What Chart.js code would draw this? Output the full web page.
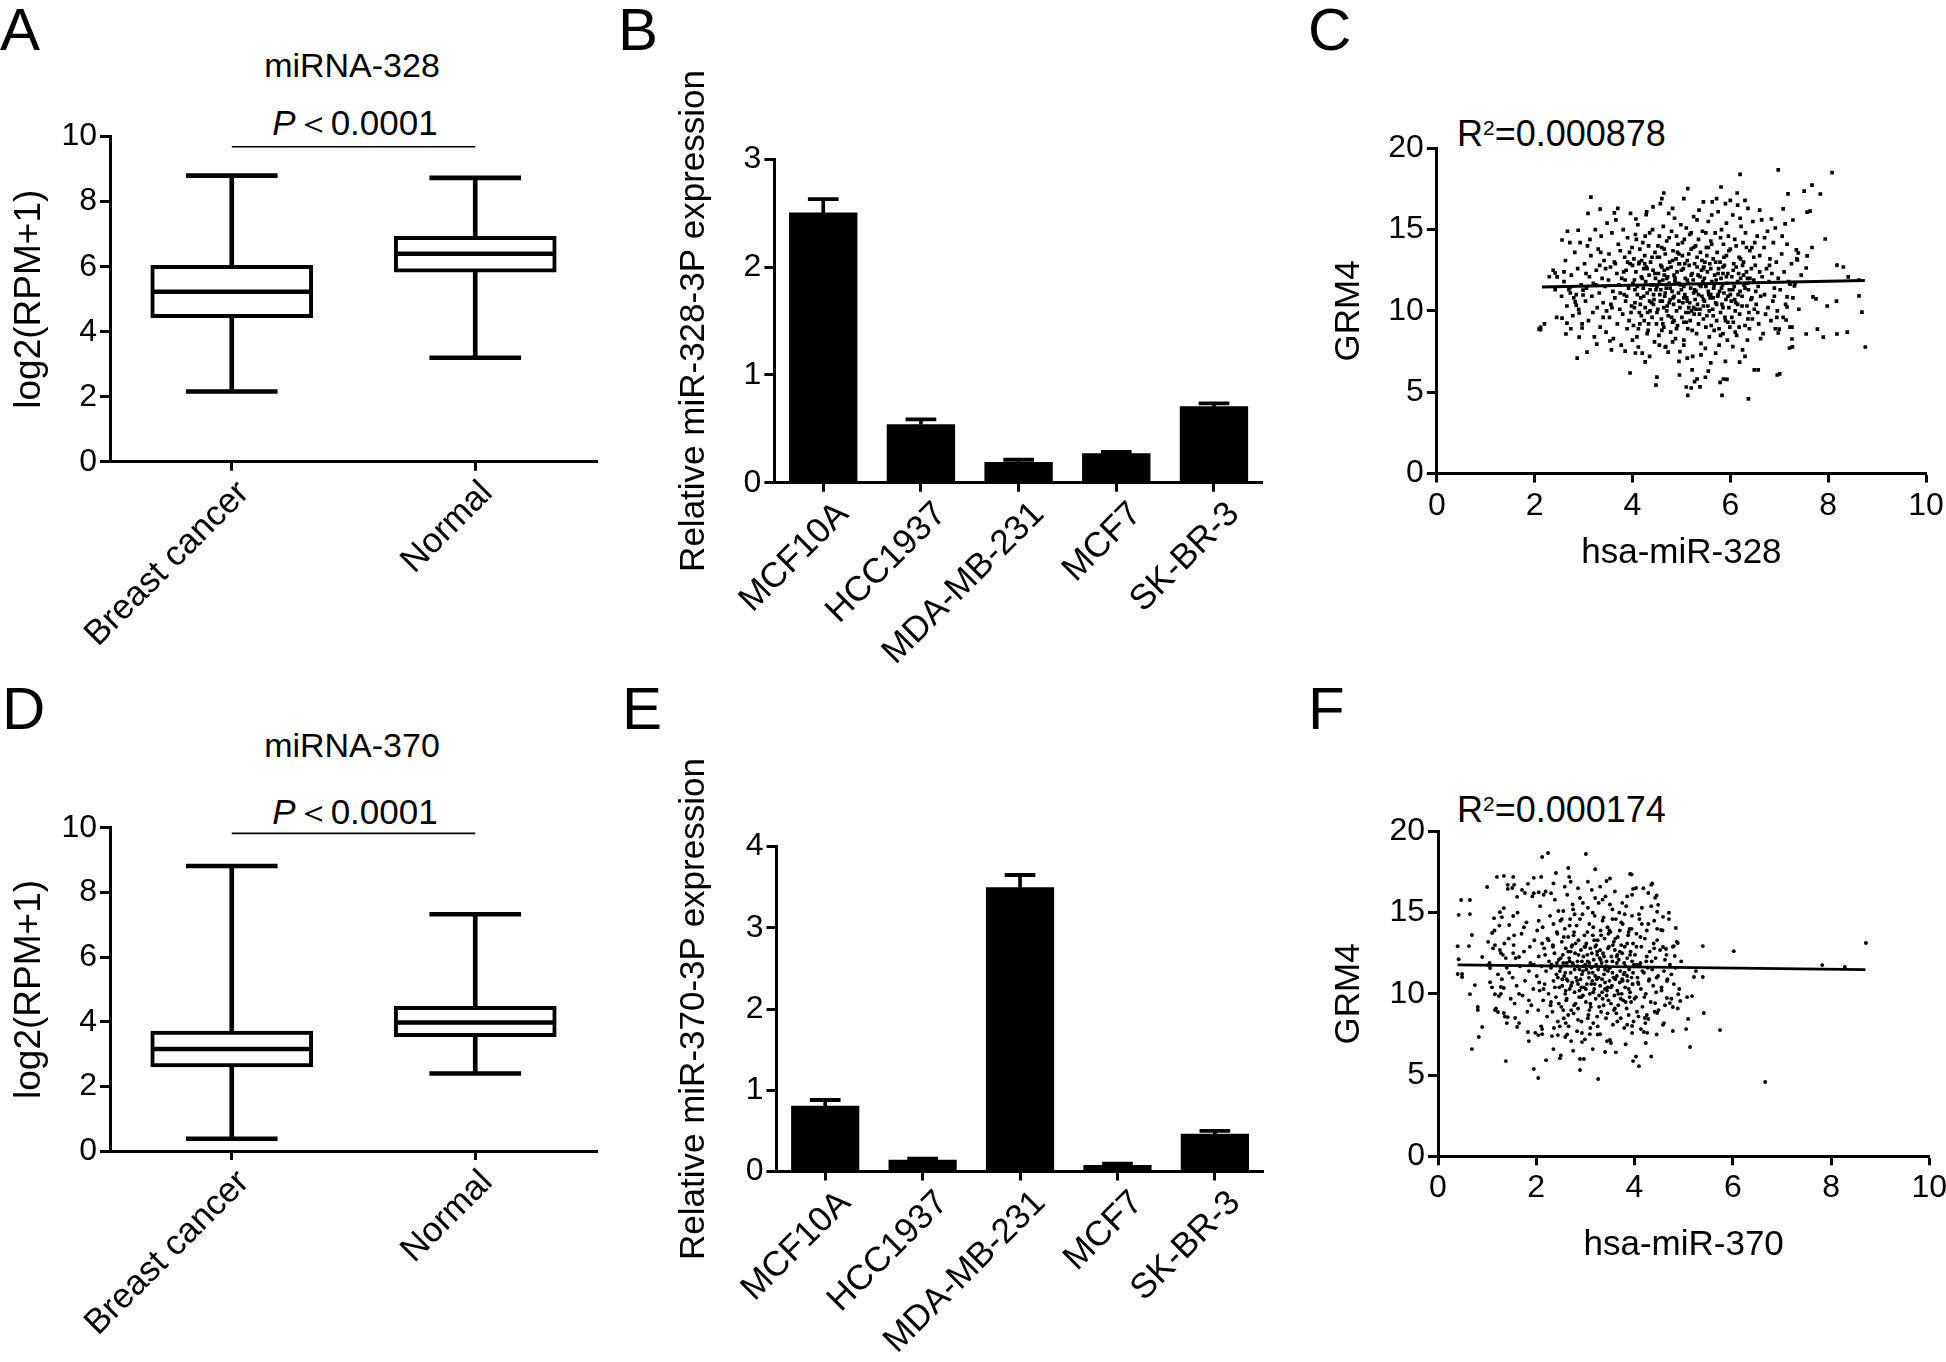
<!DOCTYPE html>
<html>
<head>
<meta charset="utf-8">
<script src="https://cdn.jsdelivr.net/npm/chart.js@4.4.1/dist/chart.umd.min.js"></script>
<style>
html,body{margin:0;padding:0;background:#fff;}
body{width:1946px;height:1362px;position:relative;overflow:hidden;font-family:"Liberation Sans",Arial,Helvetica,sans-serif;color:#000;}
canvas{position:absolute;}
.t{position:absolute;white-space:nowrap;line-height:1;}
.c{transform:translate(-50%,-50%);}
.l{transform:translate(0,-50%);}
.letter{font-size:60px;}
sup{font-size:58%;vertical-align:0.55em;line-height:0;}
</style>
</head>
<body>
<div class="t letter" style="left:0px;top:0px;">A</div>
<div class="t letter" style="left:618px;top:0px;">B</div>
<div class="t letter" style="left:1308px;top:0px;">C</div>
<div class="t letter" style="left:2px;top:679px;">D</div>
<div class="t letter" style="left:622px;top:679px;">E</div>
<div class="t letter" style="left:1308px;top:679px;">F</div>

<div class="t c" style="left:352px;top:65px;font-size:34px;">miRNA-328</div>
<div class="t c" style="left:355px;top:122px;font-size:35px;"><i>P</i>＜0.0001</div>
<div class="t c" style="left:352px;top:745px;font-size:34px;">miRNA-370</div>
<div class="t c" style="left:355px;top:811px;font-size:35px;"><i>P</i>＜0.0001</div>
<div class="t l" style="left:1457px;top:134px;font-size:36px;">R<sup>2</sup>=0.000878</div>
<div class="t l" style="left:1457px;top:810px;font-size:36px;">R<sup>2</sup>=0.000174</div>

<script>
// ---------------- data ----------------
const boxCategories = ['Breast cancer', 'Normal'];
const boxYTicks = [0, 2, 4, 6, 8, 10];

const box328Min = [2.16, 3.20];
const box328Q1 = [4.43, 5.83];
const box328Median = [5.23, 6.40];
const box328Q3 = [6.04, 6.93];
const box328Max = [8.80, 8.73];
const pBar328 = [9.69, 9.69];

const box370Min = [0.38, 2.40];
const box370Q1 = [2.60, 3.54];
const box370Median = [3.16, 3.98];
const box370Q3 = [3.71, 4.48];
const box370Max = [8.82, 7.33];
const pBar370 = [9.83, 9.83];

const cellLines = ['MCF10A', 'HCC1937', 'MDA-MB-231', 'MCF7', 'SK-BR-3'];
const miR328Expr = [2.505, 0.543, 0.193, 0.273, 0.708];
const miR328Err = [0.125, 0.044, 0.020, 0.012, 0.028];
const miR328Ticks = [0, 1, 2, 3];
const miR370Expr = [0.81, 0.145, 3.50, 0.08, 0.466];
const miR370Err = [0.07, 0.012, 0.15, 0.016, 0.034];
const miR370Ticks = [0, 1, 2, 3, 4];

const scatterXTicks = [0, 2, 4, 6, 8, 10];
const scatterYTicks = [0, 5, 10, 15, 20];
const fit328X = [2.15, 8.75];
const fit328Y = [11.47, 11.87];
const fit370X = [0.40, 8.70];
const fit370Y = [11.78, 11.49];

// hsa-miR-328 (x) vs GRM4 (y)
const points328 = [
[2.12,8.99],[2.2,9.2],[2.12,8.85],[2.09,8.88],[2.42,12.33],[2.46,12.09],[2.56,14.36],[2.67,14.9],[2.89,14.96],[2.56,9.56],
[2.64,8.58],[2.66,9.25],[2.87,7.1],[3.07,7.47],[3.27,7.96],[3.54,8.15],[3.15,17.0],[3.34,16.26],[3.09,16.0],[2.73,11.47],
[2.73,11.1],[2.83,10.55],[2.85,10.36],[2.99,11.28],[2.99,10.98],[2.91,9.87],[2.97,8.95],[2.91,8.39],[3.95,6.18],[4.5,5.93],
[4.48,5.44],[4.26,6.86],[4.06,7.41],[4.12,7.78],[3.85,7.53],[4.67,7.78],[4.73,7.47],[5.12,7.1],[5.1,5.32],[5.2,5.26],
[4.96,6.06],[5.32,5.81],[5.13,4.8],[5.27,5.65],[5.38,5.33],[5.49,5.92],[5.22,6.37],[5.79,5.6],[5.83,4.8],[6.37,4.59],
[5.93,5.79],[5.86,5.81],[6.19,6.85],[6.57,6.37],[6.49,6.37],[6.96,6.06],[7.01,6.13],[7.27,7.79],[7.21,7.72],[7.26,8.27],
[7.26,9.0],[6.98,8.64],[7.0,8.88],[7.14,9.44],[7.16,10.24],[7.55,8.58],[7.78,8.88],[7.9,8.39],[8.18,8.58],[8.39,8.7],
[8.76,7.78],[8.69,9.93],[8.63,10.92],[8.17,10.6],[7.98,10.3],[7.69,10.86],[7.75,10.74],[7.16,10.86],[7.22,11.65],[7.31,11.53],
[8.63,11.9],[8.41,12.09],[8.18,12.82],[8.31,12.7],[7.55,12.64],[7.37,13.13],[7.35,13.75],[7.39,13.56],[7.57,13.38],[7.67,13.9],
[7.94,14.42],[7.06,14.6],[6.92,15.1],[6.84,15.65],[7.12,15.35],[7.28,15.59],[7.08,16.27],[7.57,16.08],[7.63,16.14],[7.18,17.2],
[7.51,17.37],[7.67,17.74],[7.84,17.19],[8.08,18.5],[6.98,18.67],[6.2,18.4],[6.14,17.25],[5.81,17.62],[5.13,17.52],[4.64,17.25],
[4.6,16.9],[4.07,15.65],[4.28,15.92],[3.63,16.03],[2.3,12.1],[2.38,12.5],[2.45,9.6],[2.42,11.3],
[2.55,10.9],[2.6,11.8],[2.63,13.1],[2.66,10.3],[2.7,11.3],[2.72,14.2],[2.75,12.2],[2.78,9.7],[2.8,10.8],[2.82,13.6],
[2.85,11.0],[2.88,12.6],[2.9,10.1],[2.93,14.2],[2.95,11.6],[2.97,9.2],[2.74,8.9],[2.6,12.4],
[3.02,12.9],[3.04,10.6],[3.06,11.4],[3.08,14.0],[3.1,9.4],[3.12,12.1],[3.15,13.4],[3.17,10.9],[3.2,11.7],[3.22,8.4],
[3.24,15.0],[3.26,12.5],[3.28,10.2],[3.3,13.8],[3.32,11.1],[3.34,9.0],[3.36,14.6],[3.38,12.0],[3.4,10.5],[3.42,13.1],
[3.44,11.5],[3.46,8.7],[3.48,15.4],[3.05,12.3],[3.19,9.9],[3.33,12.8],[3.47,10.0],[3.13,14.4],
[3.51,11.9],[3.52,13.5],[3.53,9.6],[3.55,12.7],[3.56,10.4],[3.58,14.8],[3.6,11.2],[3.61,8.3],[3.63,13.0],[3.64,10.8],
[3.66,15.6],[3.68,12.3],[3.69,9.2],[3.71,14.1],[3.72,11.6],[3.74,10.1],[3.75,13.7],[3.77,7.9],[3.78,12.0],[3.8,9.8],
[3.81,15.0],[3.83,11.0],[3.84,13.3],[3.86,10.6],[3.87,12.5],[3.89,8.9],[3.9,14.5],[3.92,11.4],[3.93,9.4],[3.95,12.9],
[3.96,16.0],[3.98,10.3],[3.99,13.9],[3.57,7.6],[3.7,16.3],[3.85,11.9],
[4.01,11.7],[4.02,9.1],[4.03,13.2],[4.05,10.5],[4.06,14.7],[4.07,12.4],[4.09,8.4],[4.1,11.0],[4.11,15.3],[4.13,12.9],
[4.14,9.9],[4.15,13.8],[4.17,10.8],[4.18,12.1],[4.2,7.4],[4.21,14.2],[4.22,11.4],[4.24,9.4],[4.25,13.4],[4.26,10.2],
[4.28,12.7],[4.29,16.1],[4.3,11.1],[4.32,8.8],[4.33,14.0],[4.34,12.2],[4.36,10.0],[4.37,13.0],[4.38,11.6],[4.4,9.6],
[4.41,15.0],[4.42,12.5],[4.44,10.7],[4.45,8.1],[4.46,13.6],[4.48,11.3],[4.49,9.2],[4.04,11.9],[4.16,10.4],[4.27,11.8],
[4.39,10.5],[4.47,12.0],[4.12,8.9],[4.35,14.8],[4.23,12.6],[4.43,11.0],[4.19,13.1],[4.31,9.9],
[4.5,11.5],[4.51,13.3],[4.52,10.1],[4.53,12.3],[4.54,8.5],[4.55,14.6],[4.56,11.0],[4.57,16.6],[4.58,12.8],[4.59,9.5],
[4.6,13.9],[4.61,10.6],[4.62,11.9],[4.63,15.2],[4.64,9.0],[4.65,12.5],[4.66,10.9],[4.67,13.5],[4.68,7.8],[4.69,11.4],
[4.7,14.3],[4.71,10.3],[4.72,12.1],[4.73,9.7],[4.74,16.0],[4.75,11.7],[4.76,13.0],[4.77,10.7],[4.78,8.7],[4.79,12.7],
[4.8,14.9],[4.81,11.2],[4.82,9.3],[4.83,13.7],[4.84,10.4],[4.85,12.2],[4.86,15.7],[4.87,11.8],[4.88,8.3],[4.89,13.2],
[4.9,10.0],[4.91,12.4],[4.92,9.1],[4.93,14.1],[4.94,11.1],[4.95,10.6],[4.96,12.9],[4.97,7.5],[4.98,11.6],[4.99,15.3],
[4.58,11.3],[4.7,12.0],[4.83,10.8],[4.95,13.5],[4.64,10.2],
[5.0,11.3],[5.01,9.6],[5.02,13.4],[5.03,10.5],[5.04,12.6],[5.05,8.2],[5.06,14.4],[5.07,11.0],[5.08,12.0],[5.09,9.9],
[5.1,15.1],[5.11,10.8],[5.12,13.1],[5.13,8.9],[5.14,11.7],[5.15,10.2],[5.16,12.8],[5.17,14.7],[5.18,9.4],[5.19,11.4],
[5.2,13.8],[5.21,10.0],[5.22,12.3],[5.23,7.2],[5.24,11.9],[5.25,15.8],[5.26,9.8],[5.27,12.9],[5.28,10.7],[5.29,14.0],
[5.3,11.2],[5.31,8.6],[5.32,13.3],[5.33,10.4],[5.34,12.2],[5.35,9.2],[5.36,16.2],[5.37,11.6],[5.38,10.1],[5.39,13.6],
[5.4,8.0],[5.41,12.5],[5.42,10.9],[5.43,14.9],[5.44,11.8],[5.45,9.5],[5.46,12.7],[5.47,10.6],[5.48,13.0],[5.49,7.7],
[5.12,10.6],[5.25,11.1],[5.38,12.1],[5.05,9.3],[5.45,10.3],
[5.5,11.5],[5.51,13.9],[5.52,9.7],[5.53,12.4],[5.54,10.3],[5.55,15.5],[5.56,11.0],[5.57,8.4],[5.58,12.9],[5.59,10.8],
[5.6,14.3],[5.61,9.1],[5.62,11.8],[5.63,16.7],[5.64,10.1],[5.65,13.2],[5.66,11.4],[5.67,8.8],[5.68,12.2],[5.69,14.8],
[5.7,10.5],[5.71,11.9],[5.72,9.4],[5.73,13.6],[5.74,10.9],[5.75,16.1],[5.76,12.6],[5.77,7.9],[5.78,11.2],[5.79,13.0],
[5.8,9.9],[5.81,12.0],[5.82,15.0],[5.83,10.4],[5.84,11.6],[5.85,8.6],[5.86,14.1],[5.87,11.1],[5.88,12.8],[5.89,9.6],
[5.9,16.6],[5.91,10.7],[5.92,13.4],[5.93,11.7],[5.94,8.2],[5.95,12.3],[5.96,14.6],[5.97,10.2],[5.98,11.3],[5.99,9.0],
[5.6,11.0],[5.85,12.3],
[6.0,13.8],[6.02,10.6],[6.03,12.1],[6.05,15.9],[6.06,9.3],[6.08,11.5],[6.09,14.4],[6.1,10.0],[6.12,12.7],[6.13,8.5],
[6.15,16.5],[6.16,11.0],[6.18,13.3],[6.19,9.8],[6.21,12.0],[6.22,15.2],[6.24,10.9],[6.25,7.6],[6.27,13.0],[6.28,11.6],
[6.3,9.1],[6.31,14.8],[6.33,12.4],[6.34,10.3],[6.36,16.3],[6.37,11.3],[6.39,8.9],[6.4,13.7],[6.42,10.7],[6.43,12.6],
[6.45,9.5],[6.46,15.5],[6.48,11.9],[6.49,10.1],[6.07,12.9],[6.2,11.2],[6.35,12.0],[6.44,13.9],[6.11,10.5],[6.26,14.2],
[6.38,9.9],[6.17,12.3],
[6.51,12.8],[6.53,10.4],[6.55,14.6],[6.57,11.5],[6.58,9.2],[6.6,13.4],[6.62,10.9],[6.64,15.6],[6.65,12.1],[6.67,8.6],
[6.69,13.9],[6.7,11.0],[6.72,9.8],[6.74,12.6],[6.76,14.9],[6.77,10.2],[6.79,11.8],[6.81,13.2],[6.83,9.4],[6.85,12.3],
[6.87,10.6],[6.88,14.2],[6.9,11.4],[6.92,8.9],[6.94,13.0],[6.96,10.0],[6.98,12.0],[6.6,16.2],
[7.02,11.3],[7.05,13.5],[7.08,9.6],[7.1,12.4],[7.13,10.4],[7.16,14.1],[7.19,11.8],[7.22,9.0],[7.25,12.9],[7.28,10.8],
[7.32,11.7],[7.36,13.2],[7.4,10.1],[7.45,12.2],
[3.82,12.4],[3.88,10.9],[3.94,13.6],[3.97,9.9],[4.0,12.8],[4.04,10.2],[4.08,14.4],[4.1,11.5],[4.14,13.0],[4.18,9.7],
[4.2,12.0],[4.23,10.9],[4.26,14.6],[4.3,12.6],[4.33,9.2],[4.36,11.3],[4.4,13.3],[4.43,10.4],[4.46,12.3],[4.5,9.9],
[4.52,14.0],[4.55,11.8],[4.57,10.6],[4.6,12.7],[4.62,9.2],[4.65,13.8],[4.67,11.1],[4.7,10.0],[4.72,12.6],[4.75,14.5],
[4.77,11.4],[4.8,9.6],[4.82,13.1],[4.85,10.9],[4.87,12.0],[4.9,8.9],[4.92,13.6],[4.95,11.7],[4.97,10.2],[5.0,12.5],
[5.02,14.2],[5.05,10.8],[5.07,12.9],[5.1,9.3],[5.12,11.9],[5.15,13.5],[5.17,10.5],[5.2,12.2],[5.22,8.8],[5.25,13.9],
[5.27,11.3],[5.3,10.1],[5.32,12.7],[5.35,14.4],[5.37,9.8],[5.4,11.5],[5.42,13.1],[5.45,10.7],[5.47,12.0],[5.5,9.0],
[5.52,13.4],[5.55,11.2],[5.57,10.0],[5.6,12.6],[5.62,14.1],[5.65,9.7],[5.67,11.6],[5.7,13.0],[5.72,10.4],[5.75,12.3],
[5.77,8.9],[5.8,14.5],[5.82,11.4],[5.85,10.2],[5.87,13.3],[5.9,9.4],[5.92,12.1],[5.95,10.9],[5.97,13.7],[6.0,11.0],
[6.03,9.6],[6.06,12.5],[6.09,10.7],[6.12,14.0],[6.15,11.8],[6.18,9.0],[6.21,13.2],[6.24,10.3],[6.27,12.2],[6.3,11.4],
[6.33,13.9],[6.36,9.5],[6.4,12.0],[6.44,10.8],[6.48,13.3],[6.52,11.2],[6.56,9.9],[6.6,12.4],
[4.05,11.3],[4.25,12.9],[4.45,11.6],[4.65,12.2],[4.85,9.4],[5.05,11.5],[5.25,10.2],[5.45,12.6],[5.65,10.8],[5.85,12.7],
[6.05,11.3],[6.25,12.8],[4.15,9.2],[4.35,10.6],[4.55,13.3],[4.75,10.5],[4.95,12.9],[5.15,9.9],[5.35,11.0],[5.55,13.9],
[5.75,11.0],[5.95,9.3],[6.15,10.4],[6.35,11.7],[4.6,8.8],[4.9,14.6],[5.2,14.8],[5.5,14.8],[5.8,8.5],[6.1,8.7],
[4.3,8.6],[4.0,8.2],[3.9,13.0],[3.75,11.1],[3.65,12.9],[3.58,10.2],[3.45,12.6],[3.4,9.6],[3.35,13.6],[3.25,11.6],
[4.42,16.4],[4.82,16.3],[5.05,16.9],[5.45,16.7],[5.72,16.9],[6.0,16.8],[6.3,16.8],[5.32,15.6],[5.62,15.9],[5.92,15.4],
[6.2,15.7],[6.5,14.2],[6.7,14.5],[6.8,12.8],[6.9,10.9],[6.95,9.6],[6.62,8.3],[6.35,8.2],[6.05,7.8],[5.7,7.4],
[5.4,7.3],[5.05,7.9],[4.82,8.1],[4.55,7.9],[4.35,7.2],[5.6,6.8],[5.9,6.9],[6.3,7.2],[4.95,6.9],[5.55,6.3]
];

// hsa-miR-370 (x) vs GRM4 (y)
const points370 = [
[0.4,12.93],[0.42,12.13],[0.4,11.22],[0.42,14.86],[0.47,15.78],[0.65,15.78],[0.65,14.91],[0.69,13.62],[0.63,12.94],[0.49,11.22],
[0.49,11.04],[0.75,10.54],[0.65,9.98],[0.81,9.19],[0.81,9.01],[0.9,7.96],[0.83,7.34],[0.69,6.6],[1.38,5.86],[1.0,16.58],
[1.2,17.2],[1.34,17.26],[1.53,17.2],[1.42,16.71],[1.55,16.71],[1.42,16.46],[1.51,16.52],[1.61,15.97],[1.71,16.4],[1.83,16.77],
[1.77,16.21],[1.95,17.14],[2.12,18.42],[2.24,18.67],[3.01,18.61],[2.4,17.44],[2.65,17.75],[2.67,17.2],[1.95,16.2],[2.05,16.25],
[2.15,16.1],[2.3,16.2],[1.34,15.28],[1.26,15.03],[1.14,14.66],[1.3,14.72],[1.53,14.79],[1.45,14.24],[1.1,13.75],[1.02,13.2],
[1.16,13.0],[1.26,12.7],[1.28,12.51],[0.9,12.27],[1.02,11.77],[1.06,11.59],[1.38,12.2],[1.53,12.51],[1.65,12.27],[1.06,10.72],
[1.28,10.42],[1.34,10.36],[1.16,9.98],[1.24,9.86],[1.16,9.01],[1.22,8.88],[1.34,8.82],[1.4,8.2],[1.42,8.57],[1.57,8.51],
[1.61,7.96],[1.83,7.65],[1.85,7.09],[2.04,7.46],[2.12,7.83],[2.12,7.52],[1.95,5.37],[2.04,4.82],[2.2,5.92],[2.5,6.21],
[2.48,6.03],[2.89,5.99],[2.97,5.99],[2.89,5.31],[3.26,4.76],[2.44,7.46],[2.59,7.34],[2.71,7.09],[2.93,7.59],[2.93,7.03],
[3.09,7.52],[3.3,7.52],[3.4,6.42],[3.5,7.16],[3.44,7.09],[3.52,6.97],[3.91,17.38],[3.97,16.46],[4.03,16.52],[4.34,16.71],
[4.28,16.21],[4.42,15.91],[4.48,15.48],[4.46,15.05],[4.58,14.74],[4.7,14.99],[4.84,14.05],[4.54,13.93],[4.88,13.13],[4.8,12.94],
[5.39,12.94],[6.02,12.63],[8.71,13.13],[4.82,12.33],[4.64,12.76],[4.58,12.88],[4.46,13.31],[7.82,11.77],[8.28,11.65],[5.25,11.4],
[5.21,11.04],[5.39,11.04],[4.66,10.79],[4.89,9.98],[5.07,9.8],[5.17,9.86],[4.93,9.56],[4.78,9.19],[4.72,9.43],[4.66,9.74],
[5.41,8.82],[5.09,8.45],[4.78,7.71],[5.05,7.83],[5.74,7.77],[5.13,6.73],[4.46,8.82],[4.42,9.43],[4.21,8.51],[4.28,8.45],
[4.13,7.83],[4.19,7.65],[4.23,6.97],[3.95,8.02],[3.95,7.59],[4.03,6.14],[3.97,5.86],[4.09,5.55],[4.34,6.14],[6.66,4.57],
[3.2,17.67],[3.43,16.95],[3.94,17.35],[4.36,16.79],[4.45,16.06],
[1.05,11.9],[1.1,10.4],[1.12,12.8],[1.18,9.1],[1.22,11.2],[1.25,14.2],[1.28,10.0],[1.32,12.4],[1.36,8.6],[1.4,11.6],
[1.44,13.4],[1.48,9.7],[1.15,13.9],[1.3,10.9],
[1.52,11.0],[1.54,13.0],[1.56,9.4],[1.58,12.2],[1.6,10.5],[1.62,15.0],[1.65,8.2],[1.67,11.7],[1.7,13.7],[1.72,9.9],
[1.75,12.6],[1.77,10.8],[1.8,14.4],[1.82,8.9],[1.85,11.4],[1.87,12.9],[1.9,9.3],[1.92,16.0],[1.94,10.3],[1.96,13.3],
[1.98,7.6],[1.88,11.9],
[2.01,11.1],[2.02,13.9],[2.04,9.0],[2.05,12.3],[2.07,10.2],[2.08,15.4],[2.1,8.0],[2.11,11.7],[2.13,14.1],[2.14,9.6],
[2.16,12.8],[2.17,10.6],[2.19,16.3],[2.2,11.4],[2.22,8.6],[2.23,13.4],[2.25,10.0],[2.26,12.0],[2.28,14.8],[2.29,9.3],
[2.31,11.8],[2.32,7.4],[2.34,13.0],[2.35,10.8],[2.37,12.5],[2.38,15.8],[2.4,9.8],[2.41,11.2],[2.43,13.7],[2.44,8.3],
[2.46,12.1],[2.47,10.4],[2.49,14.5],[2.06,10.7],[2.18,12.4],[2.3,9.5],[2.42,11.9],[2.12,13.1],[2.36,7.9],[2.48,11.4],
[2.5,11.6],[2.51,9.2],[2.52,13.2],[2.53,10.5],[2.54,12.4],[2.55,15.1],[2.56,8.5],[2.57,11.1],[2.58,14.0],[2.59,10.0],
[2.6,12.8],[2.61,9.6],[2.62,11.9],[2.63,16.1],[2.64,10.8],[2.65,13.5],[2.66,8.0],[2.67,12.2],[2.68,10.3],[2.69,14.6],
[2.7,11.3],[2.71,9.0],[2.72,12.9],[2.73,10.7],[2.74,15.5],[2.75,11.8],[2.76,8.8],[2.77,13.8],[2.78,10.1],[2.79,12.5],
[2.8,9.4],[2.81,11.0],[2.82,14.2],[2.83,7.7],[2.84,12.0],[2.85,10.6],[2.86,13.3],[2.87,9.8],[2.88,11.5],[2.89,15.9],
[2.9,10.9],[2.91,12.7],[2.92,8.3],[2.93,11.2],[2.94,14.9],[2.95,9.9],[2.96,12.3],[2.97,10.4],[2.98,13.6],[2.99,7.2],
[2.55,11.9],[2.62,10.9],[2.7,12.6],[2.78,11.5],[2.85,9.1],[2.93,12.0],[2.6,8.2],[2.73,13.0],[2.88,10.2],[2.96,11.7],
[3.0,11.8],[3.01,9.5],[3.02,13.1],[3.03,10.6],[3.04,12.4],[3.05,15.3],[3.06,8.7],[3.07,11.3],[3.08,14.3],[3.09,10.0],
[3.1,12.8],[3.11,9.2],[3.12,11.6],[3.13,16.4],[3.14,10.8],[3.15,13.6],[3.16,8.2],[3.17,12.1],[3.18,10.3],[3.19,14.8],
[3.2,11.1],[3.21,9.7],[3.22,13.0],[3.23,10.9],[3.24,12.6],[3.25,7.5],[3.26,11.5],[3.27,15.6],[3.28,9.9],[3.29,12.2],
[3.3,10.5],[3.31,13.9],[3.32,8.9],[3.33,11.9],[3.34,10.1],[3.35,14.5],[3.36,12.5],[3.37,9.3],[3.38,11.2],[3.39,13.4],
[3.4,10.7],[3.41,16.0],[3.42,8.5],[3.43,12.0],[3.44,10.2],[3.45,14.1],[3.46,11.4],[3.47,9.6],[3.48,12.9],[3.49,10.8],
[3.05,12.0],[3.12,10.6],[3.2,12.9],[3.27,11.0],[3.35,9.7],[3.42,11.7],[3.08,9.0],[3.18,13.3],[3.3,12.7],[3.45,10.4],
[3.15,11.3],[3.38,12.3],[3.24,8.6],[3.47,13.7],[3.02,11.5],
[3.5,11.6],[3.51,13.8],[3.52,9.4],[3.53,12.3],[3.54,10.5],[3.55,15.2],[3.56,8.1],[3.57,11.0],[3.58,13.2],[3.59,9.9],
[3.6,12.7],[3.61,10.9],[3.62,14.6],[3.63,8.8],[3.64,11.9],[3.65,10.2],[3.66,13.5],[3.67,9.3],[3.68,12.1],[3.69,15.0],
[3.7,10.7],[3.71,11.4],[3.72,8.5],[3.73,13.0],[3.74,10.0],[3.75,12.5],[3.76,14.3],[3.77,9.6],[3.78,11.2],[3.79,7.9],
[3.8,12.9],[3.81,10.4],[3.82,11.7],[3.83,15.4],[3.84,9.1],[3.85,12.2],[3.86,10.8],[3.87,13.6],[3.88,8.7],[3.89,11.5],
[3.9,14.0],[3.91,10.1],[3.92,12.6],[3.93,9.5],[3.94,11.0],[3.95,16.1],[3.96,10.6],[3.97,13.1],[3.98,8.3],[3.99,11.8],
[3.55,11.3],[3.65,12.4],[3.75,10.9],[3.85,11.1],[3.95,12.0],[3.6,9.1],[3.7,13.9],[3.9,9.8],
[4.01,12.4],[4.03,9.8],[4.04,13.7],[4.06,11.0],[4.08,8.6],[4.09,14.9],[4.11,11.7],[4.13,10.3],[4.14,12.9],[4.16,9.2],
[4.18,16.5],[4.19,11.3],[4.21,13.4],[4.23,10.0],[4.24,12.0],[4.26,7.6],[4.28,14.3],[4.29,10.8],[4.31,12.6],[4.33,9.5],
[4.34,15.4],[4.36,11.5],[4.38,10.5],[4.39,13.1],[4.41,8.9],[4.43,12.2],[4.44,10.1],[4.46,14.0],[4.48,11.1],[4.49,9.0],
[4.12,11.9],[4.27,11.6],[4.4,12.8],[4.07,10.7],[4.22,8.2],
[4.52,12.7],[4.55,10.2],[4.57,13.9],[4.6,11.4],[4.62,9.3],[4.65,12.4],[4.67,10.9],[4.7,14.6],[4.72,11.8],[4.75,9.7],
[4.78,12.9],[4.8,10.6],[4.83,11.6],[4.86,13.2],[4.88,9.1],[4.91,10.3],[4.95,12.0],[4.58,8.1],
[2.3,11.6],[2.34,12.9],[2.38,10.4],[2.42,13.8],[2.46,9.4],[2.5,12.2],[2.53,10.9],[2.56,13.5],[2.59,11.3],[2.62,9.7],
[2.65,12.6],[2.68,14.2],[2.71,10.5],[2.74,11.9],[2.77,9.3],[2.8,13.1],[2.83,10.8],[2.86,12.4],[2.89,14.6],[2.92,9.8],
[2.95,11.4],[2.98,12.9],[3.01,10.3],[3.04,13.8],[3.07,11.0],[3.1,9.4],[3.13,12.5],[3.16,14.1],[3.19,10.6],[3.22,11.8],
[3.25,13.3],[3.28,9.2],[3.31,12.1],[3.34,10.9],[3.37,14.7],[3.4,11.5],[3.43,9.9],[3.46,12.8],[3.49,13.9],[3.52,10.4],
[3.55,12.0],[3.58,9.0],[3.61,13.4],[3.64,11.1],[3.67,10.0],[3.7,12.6],[3.73,14.4],[3.76,10.8],[3.79,11.9],[3.82,9.5],
[3.85,13.1],[3.88,10.3],[3.91,12.4],[3.94,14.0],[3.97,11.3],[4.0,9.7],[4.04,12.9],[4.08,10.6],[4.12,13.5],[4.16,11.4],
[4.2,9.8],[4.25,12.3],[4.3,10.9],
[2.44,11.0],[2.52,14.6],[2.6,10.2],[2.68,12.0],[2.76,13.6],[2.84,11.7],[2.92,10.4],[3.0,12.9],[3.08,11.9],[3.16,10.1],
[3.24,12.4],[3.32,13.6],[3.4,10.3],[3.48,11.6],[3.56,13.0],[3.64,12.3],[3.72,9.7],[3.8,11.3],[3.88,13.8],[3.96,10.6],
[4.05,11.8],[4.15,14.3],[4.25,13.9],[4.35,12.0],[4.45,11.0],
[2.35,14.3],[2.45,15.1],[2.55,9.0],[2.65,8.7],[2.75,15.2],[2.85,8.4],[2.95,15.6],[3.05,8.5],[3.15,15.0],[3.25,8.0],
[3.35,15.8],[3.45,8.8],[3.55,14.6],[3.65,8.3],[3.75,15.6],[3.85,8.1],[3.95,14.8],[4.05,8.9],[4.15,15.3],[4.25,8.7],
[2.25,13.3],[2.15,10.3],[2.05,14.5],[1.95,11.8],[1.85,9.6],[1.75,14.1],[1.65,10.0],[1.55,13.6],[1.45,11.3],[1.35,13.1],
[2.33,8.9],[2.48,8.0],[2.63,7.5],[2.78,14.9],[3.1,7.9],[3.2,15.9],[3.5,15.5],[3.8,14.9],[4.1,14.6],[4.4,14.5],
[2.58,16.6],[2.85,16.5],[3.05,16.9],[3.3,16.6],[3.6,16.3],[3.85,16.0],[2.1,17.2],[2.35,16.8],[2.7,16.9],[3.5,17.1],
[3.62,6.4],[3.15,6.6],[2.75,6.5],[2.35,6.6],[3.82,6.9],[4.45,7.5],[4.6,8.2],[4.55,10.4],[4.62,12.1],[4.75,11.2]
];

// ---------------- helpers ----------------
const FONT = '"Liberation Sans", Arial, Helvetica, sans-serif';
const BLACK = '#000';

function makeCanvas(left, top, w, h) {
  const c = document.createElement('canvas');
  c.width = w; c.height = h;
  c.style.left = left + 'px'; c.style.top = top + 'px';
  c.style.width = w + 'px'; c.style.height = h + 'px';
  document.body.appendChild(c);
  return c;
}

function gridOpts(len) {
  return { display: true, drawOnChartArea: false, drawTicks: true, offset: false,
           tickLength: len, tickWidth: 3, tickColor: BLACK, color: BLACK };
}

function yAxis(min, max, tickVals, width, title, titlePad, titleSize) {
  return {
    type: 'linear', min: min, max: max, position: 'left',
    afterBuildTicks: s => { s.ticks = tickVals.map(v => ({ value: v })); },
    afterFit: s => { s.width = width; s.paddingTop = 0; s.paddingBottom = 0; },
    border: { display: true, color: BLACK, width: 3 },
    grid: gridOpts(10),
    ticks: { color: BLACK, font: { family: FONT, size: 32 }, padding: 3 },
    title: { display: true, text: title, color: BLACK, font: { family: FONT, size: titleSize },
             padding: { top: titlePad, bottom: 0 } }
  };
}

function xCategory(height, fontSize, labelOffset) {
  return {
    type: 'category', offset: true, position: 'bottom',
    afterFit: s => { s.height = height; s.paddingLeft = 0; s.paddingRight = 0; },
    border: { display: true, color: BLACK, width: 3 },
    grid: gridOpts(9),
    ticks: { color: BLACK, font: { family: FONT, size: fontSize }, minRotation: 45, maxRotation: 45,
             autoSkip: false, padding: 2, labelOffset: labelOffset }
  };
}

function xLinear(height, tickVals, title, titlePadBottom) {
  return {
    type: 'linear', min: 0, max: 10, position: 'bottom',
    afterBuildTicks: s => { s.ticks = tickVals.map(v => ({ value: v })); },
    afterFit: s => { s.height = height; s.paddingLeft = 0; s.paddingRight = 0; },
    border: { display: true, color: BLACK, width: 3 },
    grid: gridOpts(9),
    ticks: { color: BLACK, font: { family: FONT, size: 32 }, padding: 4, maxRotation: 0 },
    title: { display: true, text: title, color: BLACK, font: { family: FONT, size: 35 },
             padding: { top: 0, bottom: titlePadBottom } }
  };
}

const baseOptions = (pad) => ({
  responsive: false, animation: false, devicePixelRatio: 1, events: [],
  layout: { padding: pad },
  plugins: { legend: { display: false }, tooltip: { enabled: false }, title: { display: false } }
});

// ---------------- box plots ----------------
function boxChart(canvas, pad, yWidth, xHeight, mins, q1s, meds, q3s, maxs, pLine) {
  const half = 0.06;
  new Chart(canvas, {
    type: 'bar',
    data: {
      labels: boxCategories,
      datasets: [
        { data: mins.map((v, i) => [v, maxs[i]]), backgroundColor: BLACK, barThickness: 4, grouped: false, order: 5 },
        { data: q1s.map((v, i) => [v, q3s[i]]), backgroundColor: '#fff', borderColor: BLACK, borderWidth: 4,
          borderSkipped: false, barThickness: 162, grouped: false, order: 4 },
        { data: meds.map(v => [v - half, v + half]), backgroundColor: BLACK, barThickness: 160, grouped: false, order: 3 },
        { data: maxs.map(v => [v - half, v + half]), backgroundColor: BLACK, barThickness: 91, grouped: false, order: 3 },
        { data: mins.map(v => [v - half, v + half]), backgroundColor: BLACK, barThickness: 91, grouped: false, order: 3 },
        { type: 'line', data: pLine, borderColor: BLACK, borderWidth: 1.6, pointRadius: 0, fill: false, order: 1 }
      ]
    },
    options: Object.assign(baseOptions(pad), {
      scales: { x: xCategory(xHeight, 35, 12), y: yAxis(0, 10, boxYTicks, yWidth, 'log2(RPM+1)', 7.4, 37) }
    })
  });
}

boxChart(makeCanvas(0, 0, 640, 680), { left: 0, top: 136.6, right: 43, bottom: 0 }, 110, 218.2,
  box328Min, box328Q1, box328Median, box328Q3, box328Max, pBar328);
boxChart(makeCanvas(0, 680, 640, 682), { left: 0, top: 147.9, right: 43, bottom: 0 }, 110, 211,
  box370Min, box370Q1, box370Median, box370Q3, box370Max, pBar370);

// ---------------- bar charts ----------------
function barChart(canvas, pad, yWidth, xHeight, values, errs, yMax, ticks, title, capHalf) {
  new Chart(canvas, {
    type: 'bar',
    data: {
      labels: cellLines,
      datasets: [
        { data: values.map((v, i) => [v, v + errs[i]]), backgroundColor: BLACK, barThickness: 3, grouped: false, order: 3 },
        { data: values.map((v, i) => [v + errs[i] - capHalf, v + errs[i] + capHalf]), backgroundColor: BLACK,
          barThickness: 30, grouped: false, order: 2 },
        { data: values, backgroundColor: BLACK, barPercentage: 0.7, categoryPercentage: 1.0, grouped: false, order: 1 }
      ]
    },
    options: Object.assign(baseOptions(pad), {
      scales: { x: xCategory(xHeight, 35, 20), y: yAxis(0, yMax, ticks, yWidth, title, 23, 35) }
    })
  });
}

barChart(makeCanvas(650, 0, 650, 680), { left: 0, top: 159.2, right: 37.2, bottom: 0 }, 124.4, 197.3,
  miR328Expr, miR328Err, 3, miR328Ticks, 'Relative miR-328-3P expression', 0.015);
barChart(makeCanvas(650, 680, 650, 682), { left: 0, top: 166.6, right: 36.4, bottom: 0 }, 126.5, 190.5,
  miR370Expr, miR370Err, 4, miR370Ticks, 'Relative miR-370-3P expression', 0.02);

// ---------------- scatter plots ----------------
function scatterChart(canvas, pad, yWidth, xHeight, pts, fitX, fitY, xTitle, yPad, xPad, style, radius) {
  new Chart(canvas, {
    type: 'scatter',
    data: {
      datasets: [
        { type: 'line', data: fitX.map((x, i) => ({ x: x, y: fitY[i] })), borderColor: BLACK, borderWidth: 2.8,
          pointRadius: 0, fill: false, order: 1 },
        { data: pts.map(p => ({ x: p[0], y: p[1] })), pointStyle: style, pointRadius: radius,
          pointBorderWidth: 0, backgroundColor: BLACK, borderColor: BLACK, order: 2 }
      ]
    },
    options: Object.assign(baseOptions(pad), {
      scales: { x: xLinear(xHeight, scatterXTicks, xTitle, xPad), y: yAxis(0, 20, scatterYTicks, yWidth, 'GRM4', yPad, 35) }
    })
  });
}

scatterChart(makeCanvas(1300, 0, 646, 680), { left: 0, top: 148.3, right: 20, bottom: 0 }, 136.8, 206.5,
  points328, fit328X, fit328Y, 'hsa-miR-328', 28.8, 106, 'rect', 2.6);
scatterChart(makeCanvas(1300, 680, 646, 682), { left: 0, top: 151.4, right: 16.7, bottom: 0 }, 138, 205.7,
  points370, fit370X, fit370Y, 'hsa-miR-370', 28.8, 96, 'circle', 1.95);
</script>
</body>
</html>
